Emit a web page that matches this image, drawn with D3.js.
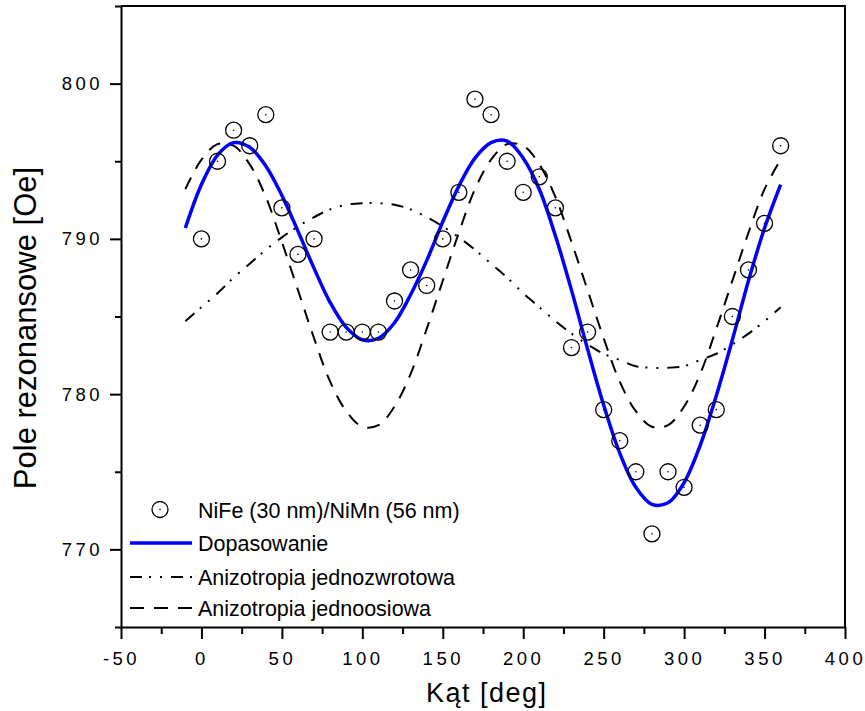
<!DOCTYPE html>
<html><head><meta charset="utf-8">
<script src="https://cdn.jsdelivr.net/npm/d3@7"></script>
<style>body{margin:0;background:#fff}svg{display:block}</style>
</head><body><svg id="c" width="865" height="711"></svg>
<script>
// ---- data ----
const angles = [0,10,20,30,40,50,60,70,80,90,100,110,120,130,140,150,160,170,180,190,200,210,220,230,240,250,260,270,280,290,300,310,320,330,340,350,360];
const measured = [790,795,797,796,798,792,789,790,784,784,784,784,786,788,787,790,793,799,798,795,793,794,792,783,784,779,777,775,771,775,774,778,779,785,788,791,796];
const curveAngles = [-10,0,10,20,30,40,50,60,70,80,90,100,110,120,130,140,150,160,170,180,190,200,210,220,230,240,250,260,270,280,290,300,310,320,330,340,350,360];
const fitValues = [790.7,793.5,795.4,796.2,795.9,794.7,792.8,790.5,788.1,785.9,784.3,783.5,783.6,784.6,786.4,788.6,791.1,793.4,795.2,796.2,796.3,795.2,793.2,790.2,786.7,782.9,779.3,776.2,774.0,772.9,773.0,774.3,776.7,779.9,783.5,787.3,790.7,793.5];
const unidirValues = [784.7,785.6,786.5,787.5,788.4,789.3,790.1,790.8,791.4,791.9,792.2,792.3,792.3,792.2,791.9,791.4,790.8,790.1,789.3,788.4,787.5,786.5,785.6,784.7,783.9,783.2,782.6,782.2,781.8,781.7,781.7,781.8,782.2,782.6,783.2,783.9,784.7,785.6];
const uniaxialValues = [793.2,795.1,796.1,796.0,794.8,792.7,789.8,786.7,783.6,780.8,778.9,777.9,778.0,779.2,781.3,784.2,787.3,790.4,793.2,795.1,796.1,796.0,794.8,792.7,789.8,786.7,783.6,780.8,778.9,777.9,778.0,779.2,781.3,784.2,787.3,790.4,793.2,795.1];
const xMajorTicks = [-50,0,50,100,150,200,250,300,350,400];
const xMinorTicks = [-25,25,75,125,175,225,275,325,375];
const yMajorTicks = [770,780,790,800];
const yMinorTicks = [765,775,785,795,805];
const legendLabels = ["NiFe (30 nm)/NiMn (56 nm)","Dopasowanie","Anizotropia jednozwrotowa","Anizotropia jednoosiowa"];
const xTitle = "Kąt [deg]";
const yTitle = "Pole rezonansowe [Oe]";

// ---- drawing ----
const FONT = "'Liberation Sans', Arial, Helvetica, sans-serif";
const svg = d3.select('#c');
svg.append('rect').attr('width',865).attr('height',711).attr('fill','#fff');
const L=121, R=845, T=6, B=627;
const x = d3.scaleLinear().domain([-50,400]).range([L,R]);
const y = d3.scaleLinear().domain([765,805]).range([B,T]);

const lineGen = vals => d3.line()
  .x((d,i)=>x(curveAngles[i])).y(d=>y(d))
  .curve(d3.curveCatmullRom.alpha(0.5))(vals);

const plot = svg.append('g');
plot.append('path').attr('d', lineGen(unidirValues))
  .attr('fill','none').attr('stroke','#000').attr('stroke-width',2)
  .attr('stroke-dasharray','12,7,2,9,2,9');
plot.append('path').attr('d', lineGen(uniaxialValues))
  .attr('fill','none').attr('stroke','#000').attr('stroke-width',2)
  .attr('stroke-dasharray','13,10');
plot.append('path').attr('d', lineGen(fitValues))
  .attr('fill','none').attr('stroke','#0000ff').attr('stroke-width',3.5);
const pts = plot.append('g');
pts.selectAll('circle.m').data(measured).join('circle').attr('class','m')
  .attr('cx',(d,i)=>x(angles[i])).attr('cy',d=>y(d)).attr('r',8)
  .attr('fill','none').attr('stroke','#000').attr('stroke-width',1.3);
pts.selectAll('circle.d').data(measured).join('circle').attr('class','d')
  .attr('cx',(d,i)=>x(angles[i])).attr('cy',d=>y(d)).attr('r',0.8).attr('fill','#000');

function styleAxis(g){
  g.selectAll('path,line').attr('stroke','#000').attr('stroke-width',2);
  g.selectAll('text').attr('fill','#000').style('font-family',FONT)
    .style('font-size','18.5px').style('letter-spacing','3.5px');
}
const fmt = d => String(d);
const xAxis = svg.append('g').attr('transform',`translate(0,${B})`)
  .call(d3.axisBottom(x).tickValues(xMajorTicks).tickSize(12).tickSizeOuter(0).tickPadding(13).tickFormat(fmt));
styleAxis(xAxis);
const xMinor = svg.append('g').attr('transform',`translate(0,${B})`)
  .call(d3.axisBottom(x).tickValues(xMinorTicks).tickSize(7).tickFormat(''));
xMinor.select('.domain').remove(); styleAxis(xMinor);

const yAxis = svg.append('g').attr('transform',`translate(${L},0)`)
  .call(d3.axisLeft(y).tickValues(yMajorTicks).tickSize(11).tickSizeOuter(0).tickPadding(7).tickFormat(fmt));
styleAxis(yAxis);
const yMinor = svg.append('g').attr('transform',`translate(${L},0)`)
  .call(d3.axisLeft(y).tickValues(yMinorTicks).tickSize(6).tickFormat(''));
yMinor.select('.domain').remove(); styleAxis(yMinor);

svg.append('path').attr('d',`M${L},${T}H${R}V${B}`).attr('fill','none')
  .attr('stroke','#000').attr('stroke-width',2);

svg.append('text').attr('x',486.75).attr('y',702).attr('text-anchor','middle')
  .style('font-family',FONT).style('font-size','27px').style('letter-spacing','1.5px')
  .text(xTitle);
svg.append('text').attr('transform','translate(36,328) rotate(-90)').attr('text-anchor','middle')
  .style('font-family',FONT).style('font-size','31px').text(yTitle);

const rowsY = [509.5, 543, 577, 608];
const lg = svg.append('g');
lg.append('circle').attr('cx',160).attr('cy',rowsY[0]).attr('r',8)
  .attr('fill','none').attr('stroke','#000').attr('stroke-width',1.3);
lg.append('circle').attr('cx',160).attr('cy',rowsY[0]).attr('r',0.8).attr('fill','#000');
lg.append('line').attr('x1',130).attr('x2',192).attr('y1',rowsY[1]).attr('y2',rowsY[1])
  .attr('stroke','#0000ff').attr('stroke-width',3.5);
lg.append('line').attr('x1',130).attr('x2',192).attr('y1',rowsY[2]).attr('y2',rowsY[2])
  .attr('stroke','#000').attr('stroke-width',2).attr('stroke-dasharray','12,7,2,9,2,9');
lg.append('line').attr('x1',130).attr('x2',192).attr('y1',rowsY[3]).attr('y2',rowsY[3])
  .attr('stroke','#000').attr('stroke-width',2).attr('stroke-dasharray','14,10');
lg.selectAll('text').data(legendLabels).join('text')
  .attr('x',198).attr('y',(d,i)=>rowsY[i]+8)
  .style('font-family',FONT).style('font-size','21.5px').attr('fill','#000')
  .text(d=>d);
</script></body></html>
